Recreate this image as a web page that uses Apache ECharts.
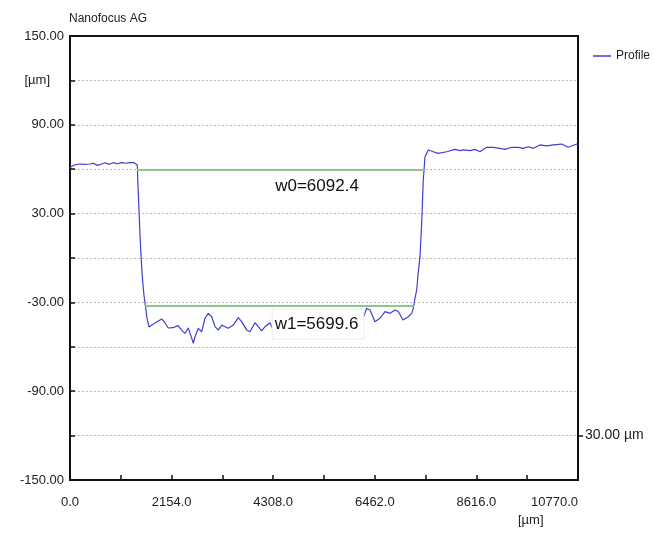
<!DOCTYPE html>
<html>
<head>
<meta charset="utf-8">
<script src="https://cdn.jsdelivr.net/npm/echarts@6/dist/echarts.min.js"></script>
<style>html,body{margin:0;padding:0;background:#fff;}#c{width:654px;height:536px;}</style>
</head>
<body>
<div id="c"></div>
<script>
// Profile data: x position [µm], height [µm]
const profileX = [0,42,106,212,318,424,494,580,672,742,834,918,1000,1094,1180,1272,1357,1399,1427,1441,1463,1484,1505,1526,1547,1568,1590,1632,1674,1696,1802,1944,2014,2084,2184,2290,2368,2438,2508,2580,2614,2650,2720,2792,2862,2932,3004,3074,3144,3216,3286,3356,3462,3568,3640,3746,3816,3922,3992,4064,4134,4240,4310,4400,4550,4700,4850,5000,5150,5300,5450,5600,5750,5900,6050,6200,6290,6360,6466,6572,6678,6784,6890,6960,7060,7172,7244,7278,7314,7350,7384,7420,7456,7490,7526,7596,7702,7808,7986,8162,8268,8338,8480,8586,8692,8834,8974,9116,9222,9364,9504,9610,9716,9822,9964,10106,10246,10424,10564,10742,10770];
const profileY = [61.3,61.6,63.0,63.5,63.3,63.5,64.0,62.6,63.5,64.4,63.3,64.4,63.7,64.4,64.0,64.4,64.4,65.7,62.8,49.0,32.0,15.5,2.0,-9.5,-18.0,-25.0,-30.4,-40.5,-46.6,-47.5,-43.9,-41.2,-43.9,-47.3,-47.1,-45.7,-48.7,-50.9,-47.3,-54.1,-57.6,-53.2,-47.5,-49.8,-40.7,-37.4,-39.7,-46.4,-48.7,-45.3,-46.4,-47.5,-45.3,-40.3,-43.0,-48.7,-49.8,-43.7,-46.4,-49.3,-46.4,-43.7,-48.7,-45.0,-44.0,-46.0,-43.0,-45.0,-44.0,-46.0,-42.0,-44.0,-45.0,-43.0,-44.0,-42.0,-34.0,-35.1,-43.0,-40.7,-36.2,-37.4,-35.1,-36.2,-41.9,-39.7,-37.4,-34.0,-27.2,-21.6,-9.5,0.9,23.6,52.7,68.4,73.0,71.8,70.7,71.8,73.4,72.5,73.0,72.5,73.4,71.8,74.8,74.8,74.1,73.4,74.8,74.8,74.1,75.2,74.1,76.4,75.7,76.4,77.0,74.8,77.0,77.0];

// Width measurements
const w0Start = 1420, w0End = 7512.4, w0Level = 59.6, w0Text = 'w0=6092.4';
const w1Start = 1592, w1End = 7291.6, w1Level = -32.0, w1Text = 'w1=5699.6';
const w0LabelPos = [5237, 48.6];
const w1LabelPos = [5258, -44.6];

// Axis settings
const yMin = -150, yMax = 150, yStep = 30;
const xMin = 0, xMax = 10770, xStep = 1077;
const titleText = 'Nanofocus AG';
const yUnit = '[µm]';
const xUnit = '[µm]';
const scaleText = '30.00 µm';
const scaleLevel = -120;
const seriesName = 'Profile';

const profile = profileX.map((x, i) => [x, profileY[i]]);

const chart = echarts.init(document.getElementById('c'), null, {renderer: 'canvas'});
const FONT = 'Liberation Sans, Arial, sans-serif';
const green = '#8cc88c';
const blue = '#3f3fd2';

chart.setOption({
  animation: false,
  backgroundColor: '#fff',
  title: {
    text: titleText, left: 69, top: 13, padding: 0,
    textStyle: {fontFamily: FONT, fontSize: 12, fontWeight: 'normal', color: '#222'}
  },
  legend: {
    data: [{name: seriesName, icon: 'rect'}],
    left: 588, top: 45, itemWidth: 18, itemHeight: 1.5, itemGap: 4,
    textStyle: {fontFamily: FONT, fontSize: 12, color: '#222'}
  },
  grid: {left: 70, right: 76, top: 36, bottom: 56, show: true, borderColor: '#111', borderWidth: 2, backgroundColor: '#fff'},
  xAxis: {
    type: 'value', min: xMin, max: xMax, interval: xStep,
    axisLine: {show: true, onZero: false, lineStyle: {color: '#111', width: 2}},
    axisTick: {show: true, inside: true, length: 5, lineStyle: {color: '#111', width: 1.5}},
    splitLine: {show: false},
    axisLabel: {
      fontFamily: FONT, fontSize: 13, color: '#222', margin: 16, alignMaxLabel: 'right',
      formatter: v => (Math.round(v) % (2 * xStep) === 0 ? v.toFixed(1) : '')
    }
  },
  yAxis: [{
    type: 'value', min: yMin, max: yMax, interval: yStep,
    axisLine: {show: true, lineStyle: {color: '#111', width: 2}},
    axisTick: {show: true, inside: true, length: 5, lineStyle: {color: '#111', width: 1.5}},
    splitLine: {show: true, showMinLine: false, showMaxLine: false, lineStyle: {color: '#bbb', type: [2, 2], width: 1}},
    axisLabel: {
      fontFamily: FONT, fontSize: 13, color: '#222', margin: 6,
      formatter: v => {
        if (Math.round(v) === 120) return '{u|' + yUnit + '}';
        return Math.abs(Math.round(v)) % 60 === 30 ? v.toFixed(2) : '';
      },
      rich: {u: {fontFamily: FONT, fontSize: 13, color: '#222', padding: [0, 14, 0, 0]}}
    }
  }, {
    type: 'value', min: yMin, max: yMax, interval: yStep, position: 'right',
    axisLine: {show: true, lineStyle: {color: '#111', width: 2}},
    axisTick: {show: false},
    splitLine: {show: false},
    axisLabel: {
      fontFamily: FONT, fontSize: 14, color: '#222', margin: 7,
      formatter: v => (Math.round(v) === scaleLevel ? scaleText : '')
    }
  }],
  series: [{
    name: seriesName, type: 'line', data: profile, showSymbol: false, symbol: 'none',
    lineStyle: {color: blue, width: 1.2}, itemStyle: {color: blue}, z: 3,
    markLine: {
      silent: true, symbol: 'none', label: {show: false},
      lineStyle: {color: green, width: 2, type: 'solid'},
      data: [
        [{coord: [w0Start, w0Level]}, {coord: [w0End, w0Level]}],
        [{coord: [w1Start, w1Level]}, {coord: [w1End, w1Level]}]
      ]
    }
  }, {
    name: 'labels', type: 'scatter', symbolSize: 0, z: 10, silent: true,
    itemStyle: {opacity: 1},
    data: [
      {value: w0LabelPos, label: {show: true, position: 'inside', formatter: w0Text, fontFamily: FONT, fontSize: 17, color: '#111', opacity: 1}},
      {value: w1LabelPos, label: {show: true, position: 'inside', formatter: w1Text, fontFamily: FONT, fontSize: 17, color: '#111', opacity: 1,
        backgroundColor: '#fff', borderColor: '#ececec', borderWidth: 1, padding: [6, 5, 6, 2]}}
    ]
  }],
  graphic: [
    {type: 'line', shape: {x1: 578, y1: 436, x2: 583, y2: 436}, style: {stroke: '#111', lineWidth: 1.5}, z: 100},
    {type: 'text', left: 518, top: 514, style: {text: xUnit, font: '13px ' + FONT, fill: '#222'}}
  ]
});
</script>
</body>
</html>
